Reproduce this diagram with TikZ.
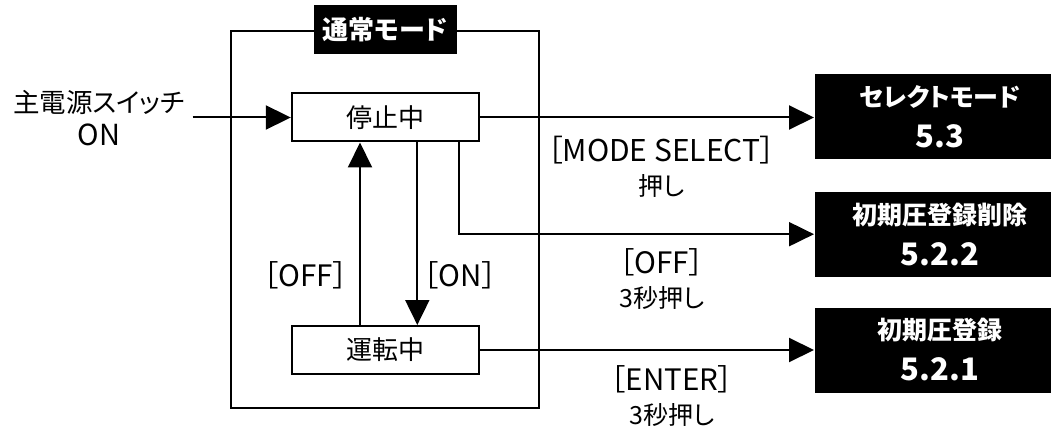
\documentclass[tikz,border=0pt]{standalone}
\usepackage{fontspec}
\setmainfont{Noto Sans CJK JP}[RawFeature=+palt]
\usetikzlibrary{arrows.meta}
\newcommand{\cjksz}[1]{\fontsize{#1}{#1}\selectfont}
\begin{document}
\begin{tikzpicture}[x=1pt,y=-1pt,
  line width=2pt,
  statebox/.style={draw, line width=2pt, minimum width=187pt, minimum height=48pt, inner sep=0pt, font=\fontsize{26}{30}\selectfont},
  titlebox/.style={fill=black, text=white, minimum width=143pt, minimum height=49pt, inner sep=0pt, font=\bfseries\fontsize{26}{30}\selectfont},
  targetbox/.style={fill=black, text=white, minimum width=250pt, minimum height=85pt, inner sep=0pt, align=center, font=\bfseries\fontsize{25}{41}\selectfont},
  lbl/.style={align=center, inner sep=0pt, font=\fontsize{25}{34}\selectfont},
  arr/.style={-{Triangle[length=25pt,width=24pt]}, line width=2pt}
]
\useasboundingbox (0,0) rectangle (1051,430);
\clip (0,0) rectangle (1051,430);

\node[draw, line width=2pt, minimum width=308pt, minimum height=377pt, inner sep=0pt] (frame) at (384.7,219.2) {};
\node[titlebox] (title) at (385.3,29.3) {通常モード};

\node[statebox] (stop) at (385.3,117.5) {停止中};
\node[statebox] (run) at (385.3,350) {運転中};

\node[lbl, font=\fontsize{26.5}{33}\selectfont] (power) at (99,118) {主電源スイッチ\\{\cjksz{29}ON}};
\coordinate (in) at (192.7,117.5);

\node[targetbox] (sel) at (940,116.3) {セレクトモード\\{\cjksz{31}5.3}};
\node[targetbox] (del) at (940,234.2) {初期圧登録削除\\{\cjksz{31}5.2.2}};
\node[targetbox] (reg) at (940,350) {初期圧登録\\{\cjksz{31}5.2.1}};

\draw[arr] (in) -- (stop.west);
\draw[arr] ([xshift=-25.3pt]run.north) -- ([xshift=-25.3pt]stop.south);
\draw[arr] ([xshift=32pt]stop.south) -- ([xshift=32pt]run.north);
\draw[arr] ([xshift=74pt]stop.south) |- (del.west);
\draw[arr] (stop.east) -- (stop.east -| sel.west);
\draw[arr] (run.east) -- (run.east -| reg.west);

\node[lbl, font=\fontsize{29.5}{34}\selectfont] (loff) at (306,275) {［OFF］};
\node[lbl, font=\fontsize{29.5}{34}\selectfont] (lon) at (460,275) {［ON］};
\node[lbl] (lmode) at (661.5,167) {{\cjksz{30}［MODE SELECT］}\\押し};
\node[lbl] (loff3) at (662,279) {{\cjksz{29.5}［OFF］}\\3秒押し};
\node[lbl] (lenter) at (672,396.5) {{\cjksz{29.5}［ENTER］}\\3秒押し};
\end{tikzpicture}
\end{document}
